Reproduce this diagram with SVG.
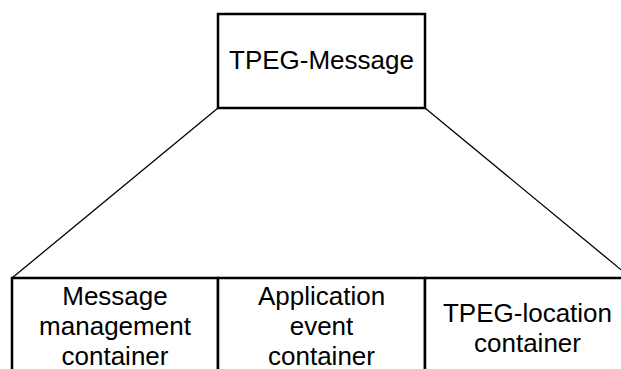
<svg xmlns="http://www.w3.org/2000/svg" width="621" height="369" viewBox="0 0 621 369">
<style>
.box{fill:#fff;stroke:#000;stroke-width:2.5}
.ln{fill:none;stroke:#000;stroke-width:1.3}
.t{font-family:"Liberation Sans",Arial,sans-serif;font-size:26px;fill:#000;text-anchor:middle}
</style>
<rect width="621" height="369" fill="#fff"/>
<g id="connectors">
<line class="ln" x1="218" y1="108" x2="12" y2="278"/>
<line class="ln" x1="425" y1="108" x2="631" y2="278"/>
</g>
<g id="tpeg-message">
<rect class="box" x="218" y="14" width="207" height="94"/>
<text class="t" x="321.5" y="69">TPEG-Message</text>
</g>
<g id="message-management">
<path class="box" d="M12,380 V278 H218 V380"/>
<text class="t" x="115" y="305">Message</text>
<text class="t" x="115" y="335">management</text>
<text class="t" x="115" y="365">container</text>
</g>
<g id="application-event">
<path class="box" d="M218,380 V278 H425 V380"/>
<text class="t" x="321.5" y="305">Application</text>
<text class="t" x="321.5" y="335">event</text>
<text class="t" x="321.5" y="365">container</text>
</g>
<g id="tpeg-location">
<path class="box" d="M425,380 V278 H640"/>
<text class="t" x="527.5" y="322">TPEG-location</text>
<text class="t" x="527.5" y="352">container</text>
</g>
</svg>
